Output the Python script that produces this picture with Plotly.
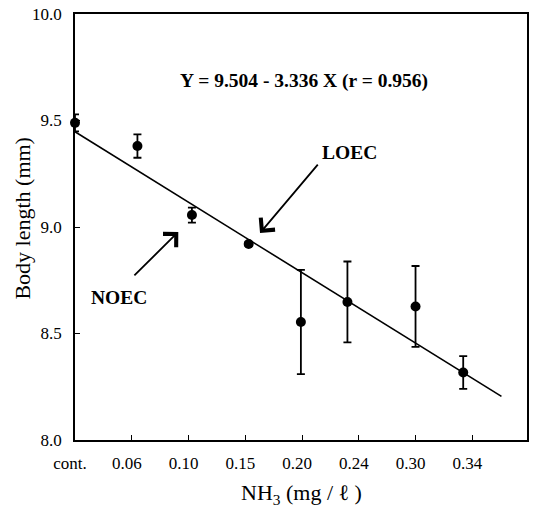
import plotly.graph_objects as go

# Data
conc = [0.0, 0.055, 0.103, 0.153, 0.199, 0.240, 0.300, 0.342]
body_len = [9.489, 9.380, 9.056, 8.920, 8.554, 8.648, 8.627, 8.317]
err = [0.040, 0.055, 0.035, 0.010, 0.245, 0.190, 0.190, 0.077]

line_x = [0.0, 0.3757]
line_y = [9.447, 8.205]

tick_vals = [0.0, 0.05, 0.10, 0.15, 0.20, 0.25, 0.30, 0.35]
tick_text = ["cont.", "0.06", "0.10", "0.15", "0.20", "0.24", "0.30", "0.34"]
ytick_vals = [8.0, 8.5, 9.0, 9.5, 10.0]
ytick_text = ["8.0", "8.5", "9.0", "9.5", "10.0"]

SERIF = "Liberation Serif"

fig = go.Figure()
fig.add_trace(go.Scatter(
    x=line_x, y=line_y, mode="lines",
    line=dict(color="black", width=1.6), showlegend=False, cliponaxis=False))
fig.add_trace(go.Scatter(
    x=conc, y=body_len, mode="markers",
    marker=dict(color="black", size=10),
    error_y=dict(type="data", array=err, visible=True, color="black",
                 thickness=1.8, width=4),
    showlegend=False, cliponaxis=False))

ann = [
    dict(x=0.202, y=9.686, xref="x", yref="y",
         text="<b>Y = 9.504 - 3.336 X (r = 0.956)</b>", showarrow=False,
         font=dict(family=SERIF, size=19.5, color="black")),
    dict(x=0.242, y=9.348, xref="x", yref="y", text="<b>LOEC</b>",
         showarrow=False, font=dict(family=SERIF, size=19.5, color="black")),
    dict(x=0.039, y=8.668, xref="x", yref="y", text="<b>NOEC</b>",
         showarrow=False, font=dict(family=SERIF, size=19.5, color="black")),
    dict(x=0.163, y=8.972, xref="x", yref="y", ax=0.215, ay=9.30,
         axref="x", ayref="y", text="", showarrow=True, arrowhead=4,
         arrowsize=2.0, arrowwidth=1.8, arrowcolor="black"),
    dict(x=0.091, y=8.977, xref="x", yref="y", ax=0.051, ay=8.766,
         axref="x", ayref="y", text="", showarrow=True, arrowhead=4,
         arrowsize=2.0, arrowwidth=1.8, arrowcolor="black"),
    dict(x=-0.117, y=0.52, xref="paper", yref="paper",
         xanchor="center", yanchor="middle",
         text="Body length (mm)", textangle=-90, showarrow=False,
         font=dict(family=SERIF, size=22, color="black")),
    dict(x=0.502, y=-0.127, xref="paper", yref="paper",
         xanchor="center", yanchor="middle",
         text="NH<sub>3</sub> (mg / ℓ )", showarrow=False,
         font=dict(family=SERIF, size=22, color="black")),
]

fig.update_layout(
    width=534, height=509,
    margin=dict(l=75, r=5, t=14, b=69),
    paper_bgcolor="white", plot_bgcolor="white",
    annotations=ann,
    xaxis=dict(range=[0, 0.3982], tickvals=tick_vals, ticktext=tick_text,
               ticks="inside", ticklen=5, tickwidth=1.2, tickcolor="black",
               showline=True, linecolor="black", linewidth=1.8, mirror=True,
               showgrid=False, zeroline=False, ticklabelstandoff=7,
               ticklabelshift=-5,
               tickfont=dict(family=SERIF, size=17, color="black")),
    yaxis=dict(range=[8.0, 10.0], tickvals=ytick_vals, ticktext=ytick_text,
               ticks="inside", ticklen=5, tickwidth=1.2, tickcolor="black",
               showline=True, linecolor="black", linewidth=1.8, mirror=True,
               showgrid=False, zeroline=False, ticklabelstandoff=8,
               tickfont=dict(family=SERIF, size=17, color="black")),
)

fig.write_html("out.html")
